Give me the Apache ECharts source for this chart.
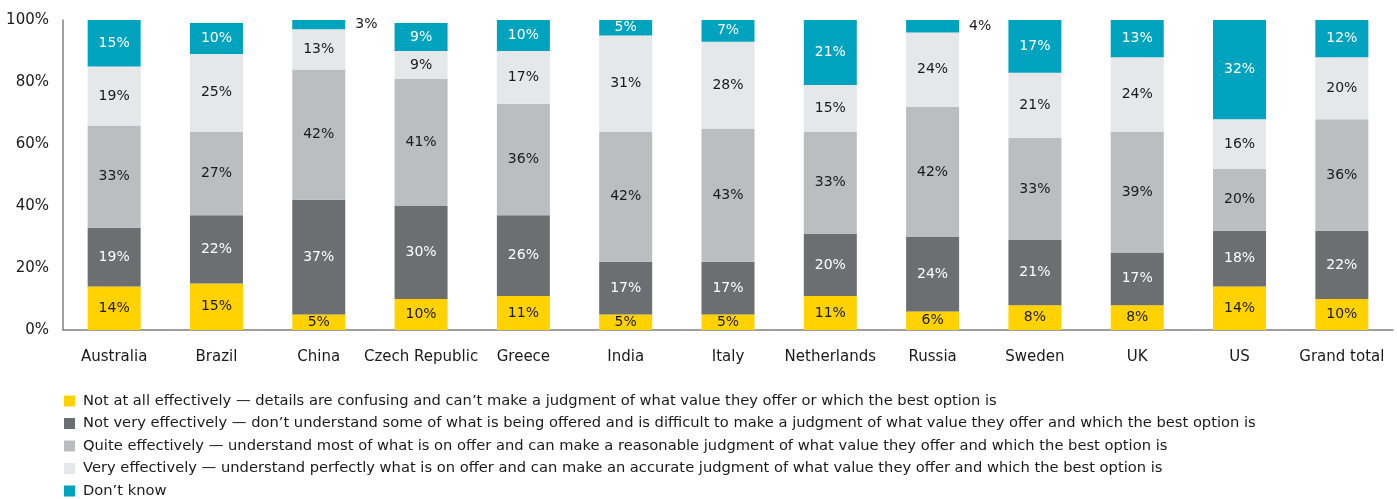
<!DOCTYPE html>
<html lang="en">
<head>
    <meta charset="UTF-8">
    <title>How effectively do customers understand offers</title>
    <script src="https://cdn.jsdelivr.net/npm/echarts@6/dist/echarts.min.js"></script>
    <style>
        body { margin: 0; background: #ffffff; }
        #chart { width: 1397px; height: 499px; }
    </style>
</head>
<body>
<div id="chart"></div>
<script>
    // categories (countries)
    var countries = ['Australia', 'Brazil', 'China', 'Czech Republic', 'Greece', 'India', 'Italy',
        'Netherlands', 'Russia', 'Sweden', 'UK', 'US', 'Grand total'];

    var seriesNames = [
        'Not at all effectively \u2014 details are confusing and can\u2019t make a judgment of what value they offer or which the best option is',
        'Not very effectively \u2014 don\u2019t understand some of what is being offered and is difficult to make a judgment of what value they offer and which the best option is',
        'Quite effectively \u2014 understand most of what is on offer and can make a reasonable judgment of what value they offer and which the best option is',
        'Very effectively \u2014 understand perfectly what is on offer and can make an accurate judgment of what value they offer and which the best option is',
        'Don\u2019t know'
    ];

    // values in %
    var notAtAll    = [14, 15, 5, 10, 11, 5, 5, 11, 6, 8, 8, 14, 10];
    var notVery     = [19, 22, 37, 30, 26, 17, 17, 20, 24, 21, 17, 18, 22];
    var quite       = [33, 27, 42, 41, 36, 42, 43, 33, 42, 33, 39, 20, 36];
    var very        = [19, 25, 13, 9, 17, 31, 28, 15, 24, 21, 24, 16, 20];
    var dontKnow    = [15, 10, 3, 9, 10, 5, 7, 21, 4, 17, 13, 32, 12];

    var colors = ['#FFD200', '#6D6E71', '#BCBDBF', '#E6E7E8', '#00A3BE'];
    var labelColors = ['#1a1a1a', '#ffffff', '#1a1a1a', '#1a1a1a', '#ffffff'];
    var allValues = [notAtAll, notVery, quite, very, dontKnow];

    var chart = echarts.init(document.getElementById('chart'));
    var font = '"DejaVu Sans", sans-serif';

    var series = allValues.map(function (vals, i) {
        return {
            name: seriesNames[i],
            type: 'bar',
            stack: 'total',
            barWidth: 53,
            itemStyle: { color: colors[i] },
            label: {
                show: true,
                position: 'inside',
                formatter: '{c}%',
                color: labelColors[i],
                fontFamily: font,
                fontSize: 14
            },
            data: vals.map(function (v) {
                // tiny top slices get their label beside the bar
                if (i === 4 && v < 5) {
                    return { value: v, label: { position: 'right', distance: 10, color: '#1a1a1a' } };
                }
                return v;
            })
        };
    });

    var option = {
        backgroundColor: '#ffffff',
        animation: false,
        textStyle: { fontFamily: font },
        grid: { left: 63, right: 4, top: 20, bottom: 169, containLabel: false },
        legend: {
            orient: 'vertical',
            left: 64,
            top: 393,
            padding: 0,
            icon: 'rect',
            itemWidth: 11,
            itemHeight: 11,
            itemGap: 6.5,
            textStyle: { fontSize: 14.7, color: '#1a1a1a', lineHeight: 16, fontFamily: font, padding: [0, 0, 0, 3] },
            data: seriesNames
        },
        xAxis: {
            type: 'category',
            data: countries,
            axisLine: { show: true, lineStyle: { color: '#808080', width: 1.5 } },
            axisTick: { show: false },
            axisLabel: { color: '#1a1a1a', fontSize: 15, margin: 20, interval: 0, fontFamily: font }
        },
        yAxis: {
            type: 'value',
            min: 0,
            max: 100,
            interval: 20,
            axisLine: { show: true, lineStyle: { color: '#808080', width: 1.5 } },
            axisTick: { show: false },
            splitLine: { show: false },
            axisLabel: { formatter: '{value}%', color: '#1a1a1a', fontSize: 15, margin: 14, fontFamily: font }
        },
        series: series
    };

    chart.setOption(option);
</script>
</body>
</html>
